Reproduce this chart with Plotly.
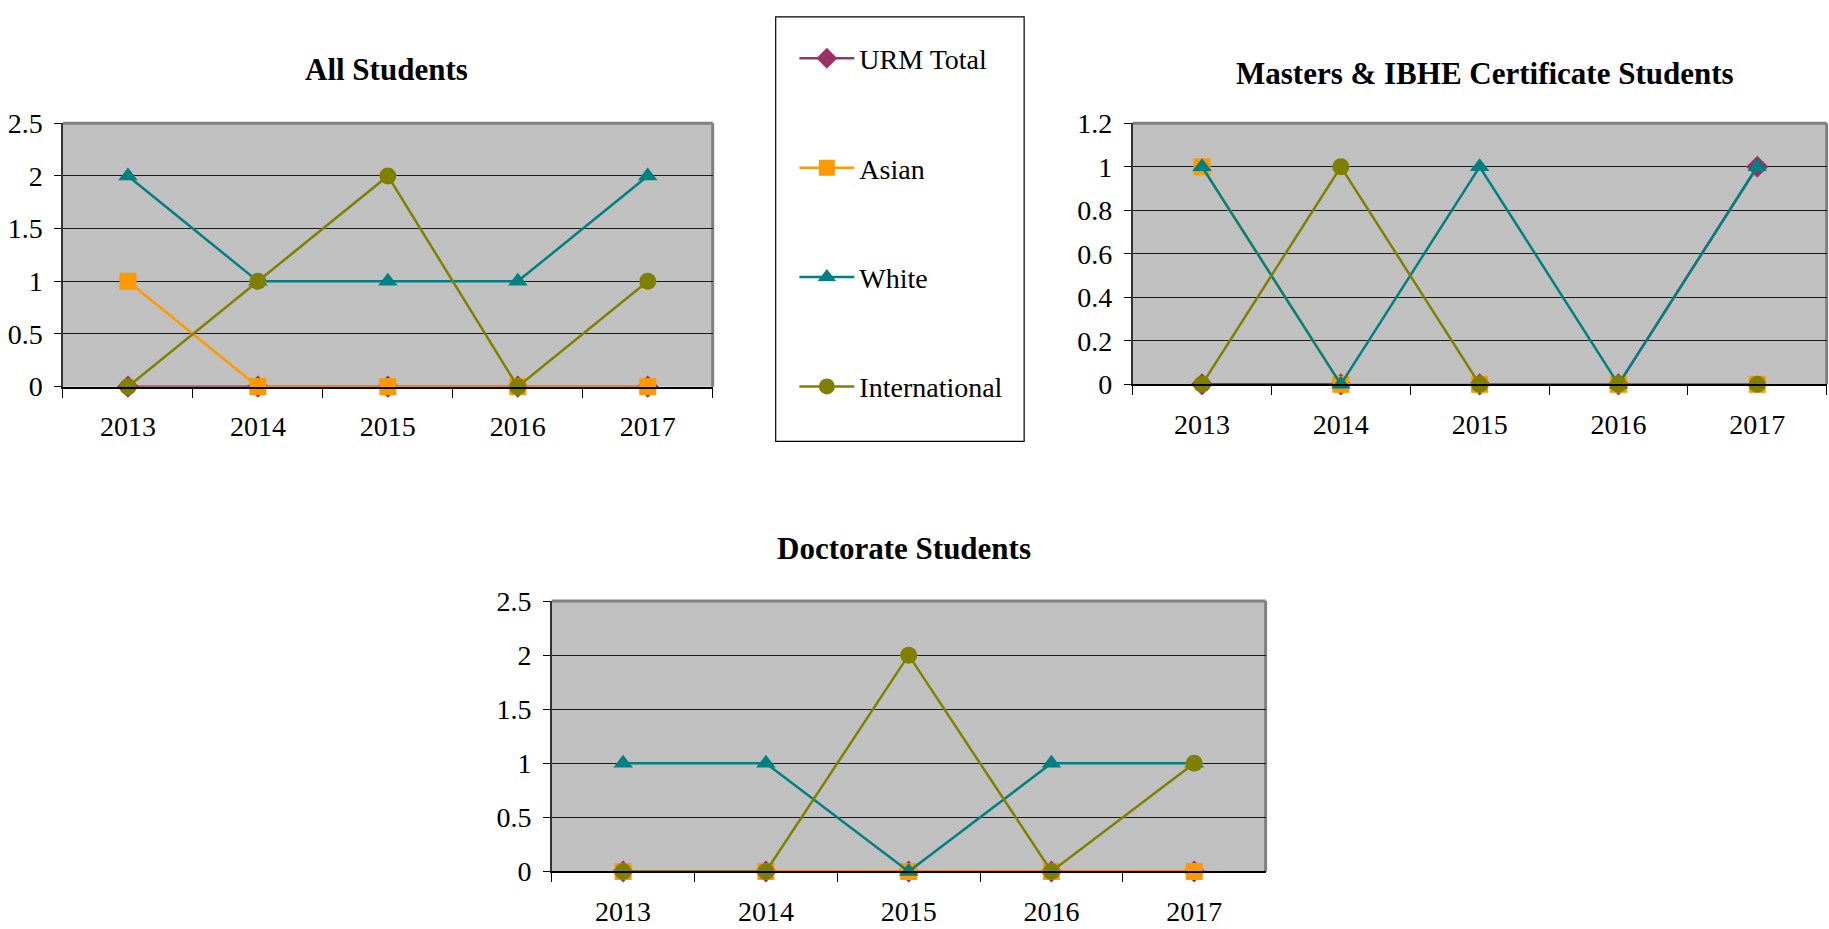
import plotly.graph_objects as go

years = ["2013", "2014", "2015", "2016", "2017"]
series_names = ["URM Total", "Asian", "White", "International"]

all_urm = [0, 0, 0, 0, 0]
all_asian = [1, 0, 0, 0, 0]
all_white = [2, 1, 1, 1, 2]
all_intl = [0, 1, 2, 0, 1]

ms_urm = [0, 0, 0, 0, 1]
ms_asian = [1, 0, 0, 0, 0]
ms_white = [1, 0, 1, 0, 1]
ms_intl = [0, 1, 0, 0, 0]

doc_urm = [0, 0, 0, 0, 0]
doc_asian = [0, 0, 0, 0, 0]
doc_white = [1, 1, 0, 1, 1]
doc_intl = [0, 0, 2, 0, 1]

colors = ["#993366", "#FF9900", "#008080", "#808000"]
symbols = ["diamond", "square", "triangle-up", "circle"]

FONT = "Liberation Serif"
W, H = 1829, 929


def fx(d):
    # reference positions measured on a 1568x796 view of the chart
    return min(1.0, max(0.0, d / 1568))


def fy(d):
    # vertical calibration against the rendered view
    return min(1.0, max(0.0, 1 - ((d - 13.1) / 0.968) / 796))


fig = go.Figure()

panels = [
    ("x", "y", [all_urm, all_asian, all_white, all_intl], True),
    ("x2", "y2", [ms_urm, ms_asian, ms_white, ms_intl], False),
    ("x3", "y3", [doc_urm, doc_asian, doc_white, doc_intl], False),
]

for xa, ya, data, show in panels:
    for i, name in enumerate(series_names):
        fig.add_trace(go.Scatter(
            x=years, y=data[i], name=name, mode="lines+markers",
            xaxis=xa, yaxis=ya,
            line=dict(color=colors[i], width=2.5),
            marker=dict(symbol=symbols[i], color=colors[i], size=17,
                        line=dict(width=0)),
            showlegend=show, legendgroup=name, cliponaxis=False,
        ))


def xax(domain, anchor):
    return dict(domain=domain, anchor=anchor, type="category",
                range=[-0.5, len(years) - 0.5],
                tickson="boundaries", ticks="outside", ticklen=9,
                tickcolor="#000000", tickwidth=1.2,
                ticklabelstandoff=14,
                showline=True, linecolor="#000000", linewidth=2,
                showgrid=False, zeroline=False,
                tickfont=dict(family=FONT, size=28, color="#000000"),
                fixedrange=True)


def yax(domain, anchor, rng, dtick):
    return dict(domain=domain, anchor=anchor, range=rng, dtick=dtick,
                ticks="outside", ticklen=7, tickcolor="#000000", tickwidth=1.2,
                ticklabelstandoff=6,
                showline=True, linecolor="#333333", linewidth=1.5,
                showgrid=True, gridcolor="#1a1a1a", gridwidth=1,
                zeroline=False,
                tickfont=dict(family=FONT, size=28, color="#000000"),
                fixedrange=True)


d_all_x = [fx(54), fx(611)]
d_all_y = [fy(332), fy(106)]
d_ms_x = [fx(971), fx(1566)]
d_ms_y = [fy(330), fy(106)]
d_doc_x = [fx(473), fx(1085)]
d_doc_y = [fy(748), fy(516)]

fig.update_layout(
    width=W, height=H,
    margin=dict(l=0, r=0, t=0, b=0),
    paper_bgcolor="#FFFFFF",
    plot_bgcolor="#C0C0C0",
    font=dict(family=FONT, size=28, color="#000000"),
    xaxis=xax(d_all_x, "y"),
    yaxis=yax(d_all_y, "x", [0, 2.5], 0.5),
    xaxis2=xax(d_ms_x, "y2"),
    yaxis2=yax(d_ms_y, "x2", [0, 1.2], 0.2),
    xaxis3=xax(d_doc_x, "y3"),
    yaxis3=yax(d_doc_y, "x3", [0, 2.5], 0.5),
    legend=dict(
        x=fx(681), y=fy(29), xanchor="left", yanchor="top",
        bgcolor="rgba(0,0,0,0)", borderwidth=0,
        font=dict(family=FONT, size=28, color="#000000"),
        tracegroupgap=70, itemwidth=55,
        traceorder="grouped",
    ),
    showlegend=True,
)

shapes = []
# gray top/right plot borders
for xr, yr in [("x domain", "y domain"), ("x2 domain", "y2 domain"), ("x3 domain", "y3 domain")]:
    shapes.append(dict(type="line", xref=xr, yref=yr, x0=0, x1=1, y0=1, y1=1,
                       line=dict(color="#808080", width=3), layer="below"))
    shapes.append(dict(type="line", xref=xr, yref=yr, x0=1, x1=1, y0=0, y1=1,
                       line=dict(color="#808080", width=3), layer="below"))
# legend box
shapes.append(dict(type="rect", xref="paper", yref="paper",
                   x0=fx(665), x1=fx(878), y0=fy(379), y1=min(0.998, fy(4)),
                   line=dict(color="#000000", width=1.2)))
fig.update_layout(shapes=shapes)

titles = [
    ("All Students", 331, 60),
    ("Masters & IBHE Certificate Students", 1273, 63),
    ("Doctorate Students", 775, 471),
]
for text, x, y in titles:
    fig.add_annotation(text="<b>%s</b>" % text, x=fx(x), y=fy(y), xref="paper", yref="paper",
                       xanchor="center", yanchor="middle", showarrow=False,
                       font=dict(family=FONT, size=31, color="#000000"))

# remove the default page margin so the figure sits exactly in the window
post = ("document.documentElement.style.margin='0';"
        "document.documentElement.style.overflow='hidden';"
        "document.body.style.margin='0';"
        "document.body.style.overflow='hidden';")

fig.write_html("out.html", post_script=post, config={"displayModeBar": False})
